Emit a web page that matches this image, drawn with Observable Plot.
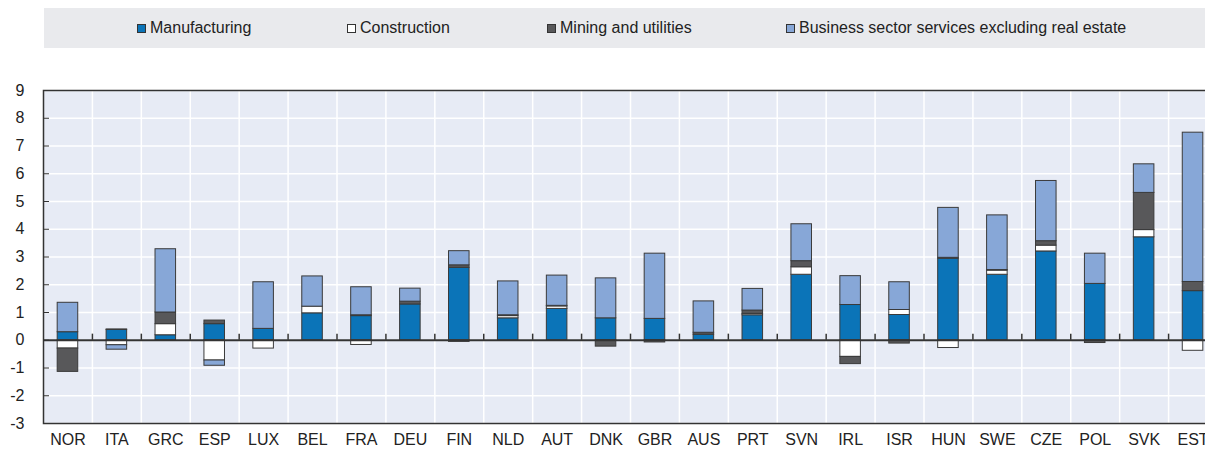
<!DOCTYPE html>
<html>
<head>
<meta charset="utf-8">
<script src="https://cdn.jsdelivr.net/npm/d3@7"></script>
<script src="https://cdn.jsdelivr.net/npm/@observablehq/plot@0.6"></script>
<style>
  html, body { margin: 0; padding: 0; background: #fff; overflow: hidden; width: 1205px; }
  body { font-family: "Liberation Sans Narrow", "Arial Narrow", "Liberation Sans", Arial, sans-serif; }
  #legend { position: relative; margin: 8px 0 0 44px; height: 40px; width: 1161px; background: #e9eaed; font-size: 16px; color: #222; }
  #legend .item { position: absolute; top: 0; height: 40px; display: flex; align-items: center; white-space: nowrap; }
  #legend .sw { width: 9px; height: 9px; border: 1px solid #333; margin-right: 4px; box-sizing: border-box; }
  #chart { width: 1205px; overflow: hidden; }
  #chart svg { display: block; max-width: none !important; width: 1217px; height: 402px; }
</style>
</head>
<body>
<div id="legend"></div>
<div id="chart"></div>
<script>
const countries = ["NOR","ITA","GRC","ESP","LUX","BEL","FRA","DEU","FIN","NLD","AUT","DNK","GBR","AUS","PRT","SVN","IRL","ISR","HUN","SWE","CZE","POL","SVK","EST"];
const sectors = ["Manufacturing","Construction","Mining and utilities","Business sector services excluding real estate"];
const colors = ["#0b74b8","#ffffff","#58585a","#87a7d7"];
const manufacturing = [0.29,0.37,0.18,0.58,0.41,0.97,0.87,1.29,2.61,0.79,1.13,0.79,0.77,0.20,0.90,2.36,1.27,0.91,2.94,2.36,3.20,2.03,3.71,1.77];
const construction  = [-0.30,-0.18,0.40,-0.73,-0.30,0.24,-0.17,0,-0.06,0.08,0.09,0,0,0,0.05,0.27,-0.60,0.18,-0.28,0.15,0.21,0,0.26,-0.38];
const mining        = [-0.84,0.02,0.42,0.13,0,0,0.03,0.10,0.09,0.03,0.02,-0.23,-0.08,0.07,0.12,0.22,-0.26,-0.12,0.03,0.02,0.16,-0.10,1.34,0.33];
const services      = [1.06,-0.16,2.28,-0.19,1.68,1.09,1.01,0.47,0.51,1.22,1.09,1.44,2.35,1.13,0.78,1.33,1.04,1.00,1.80,1.97,2.17,1.09,1.03,5.38];
const yTicks = [-3,-2,-1,0,1,2,3,4,5,6,7,8,9];

const seriesValues = [manufacturing, construction, mining, services];
const data = [];
countries.forEach((c, i) => {
  sectors.forEach((s, j) => {
    const v = seriesValues[j][i];
    if (v !== 0) data.push({country: c, sector: s, value: v});
  });
});

// legend
const legendLefts = [93, 303, 503, 742];
const legend = document.getElementById("legend");
sectors.forEach((s, j) => {
  const it = document.createElement("div");
  it.className = "item";
  it.style.left = legendLefts[j] + "px";
  const sw = document.createElement("span");
  sw.className = "sw";
  sw.style.background = colors[j];
  const t = document.createElement("span");
  t.textContent = s;
  it.appendChild(sw); it.appendChild(t);
  legend.appendChild(it);
});

const W = 1217, ML = 43, MR = 0;
const step = (W - ML - MR) / countries.length;

const chart = Plot.plot({
  width: W,
  height: 402,
  marginLeft: ML,
  marginRight: MR,
  marginTop: 42,
  marginBottom: 27,
  style: {fontFamily: '"Liberation Sans Narrow", "Arial Narrow", "Liberation Sans", Arial, sans-serif', fontSize: "16px", color: "#222", background: "transparent", maxWidth: "none"},
  x: {domain: countries, paddingInner: 0.58, paddingOuter: 0.29, round: false, label: null},
  y: {domain: [-3, 9], label: null},
  color: {domain: sectors, range: colors},
  marks: [
    Plot.frame({fill: "#e7ebf5", stroke: null}),
    Plot.gridY(yTicks, {stroke: "#fff", strokeOpacity: 1, strokeWidth: 1.5}),
    Plot.ruleX(countries.slice(1), {x: d => d, dx: -step / 2, stroke: "#fff", strokeWidth: 1.5}),
    Plot.barY(data, Plot.stackY({x: "country", y: "value", z: "sector", fill: "sector", stroke: "#3a3a3a", strokeWidth: 1, order: sectors})),
    Plot.ruleX(countries.slice(1), {x: d => d, dx: -step / 2, y1: 0, y2: 0.22, stroke: "#333", strokeWidth: 1.5}),
    Plot.ruleY([0], {stroke: "#333", strokeWidth: 2}),
    Plot.frame({stroke: "#333", strokeWidth: 1.5}),
    Plot.axisY(yTicks, {tickSize: 0, tickPadding: 19, tickFormat: d => String(d), label: null, fill: "#222"}),
    Plot.axisY(yTicks, {tickSize: 6, dx: 6, tickFormat: () => "", label: null, stroke: "#333"}),
    Plot.axisX({tickSize: 0, tickPadding: 10, label: null, fill: "#222"})
  ]
});
document.getElementById("chart").appendChild(chart);
</script>
</body>
</html>
